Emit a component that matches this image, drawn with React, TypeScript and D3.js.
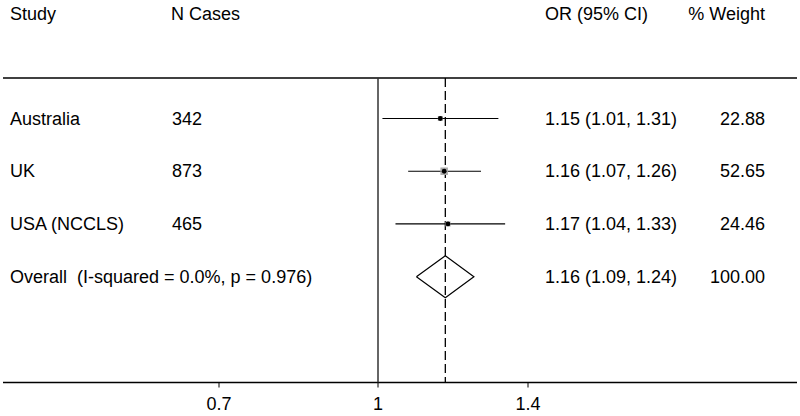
import * as d3 from 'd3'

const studies = ['Australia', 'UK', 'USA (NCCLS)']
const nCases = [342, 873, 465]
const orEst = [1.15, 1.16, 1.17]
const ciLow = [1.01, 1.07, 1.04]
const ciHigh = [1.31, 1.26, 1.33]
const weights = [22.88, 52.65, 24.46]

const overallLabel = 'Overall  (I-squared = 0.0%, p = 0.976)'
const overallEst = 1.163
const overallLow = 1.09
const overallHigh = 1.24
const overallWeight = '100.00'
const overallText = '1.16 (1.09, 1.24)'
const orTexts = ['1.15 (1.01, 1.31)', '1.16 (1.07, 1.26)', '1.17 (1.04, 1.33)']

const xTicks = [0.7, 1, 1.4]
const headers = { study: 'Study', n: 'N Cases', or: 'OR (95% CI)', weight: '% Weight' }

const W = 800
const H = 416
const TOP = 78
const BOTTOM = 382.5
const FONT = '"Liberation Sans", Arial, Helvetica, sans-serif'
const FS = 18

export default function App() {
  const x = d3.scaleLog().domain([0.7, 1.4]).range([219, 528])
  const rowKeys = [...studies, 'overall']
  const y = d3.scalePoint<string>().domain(rowKeys).range([118.5, 276.7])
  const box = d3.scaleSqrt().domain([0, d3.max(weights) as number]).range([0, 7.5])

  const diamond = d3.line<[number, number]>()
  const yo = y('overall') as number
  const dPts: [number, number][] = [
    [x(overallLow), yo],
    [x(overallEst), yo - 21],
    [x(overallHigh), yo],
    [x(overallEst), yo + 21],
    [x(overallLow), yo],
  ]

  return (
    <svg
      width={W}
      height={H}
      style={{ position: 'absolute', left: 0, top: 0, background: '#fff', fontFamily: FONT, whiteSpace: 'pre' }}
    >
      <rect width={W} height={H} fill="#fff" />

      {/* headers */}
      <g fontSize={FS} fill="#000" dominantBaseline="central">
        <text x={10} y={14}>{headers.study}</text>
        <text x={171} y={14}>{headers.n}</text>
        <text x={545} y={14}>{headers.or}</text>
        <text x={765} y={14} textAnchor="end">{headers.weight}</text>
      </g>

      {/* top rule and axis */}
      <line x1={3} x2={797} y1={TOP} y2={TOP} stroke="#000" strokeWidth={1.5} />
      <line x1={3} x2={797} y1={BOTTOM} y2={BOTTOM} stroke="#000" strokeWidth={1.5} />

      {/* null line and pooled line */}
      <line x1={x(1)} x2={x(1)} y1={TOP} y2={BOTTOM} stroke="#333" strokeWidth={1.5} />
      <line
        x1={x(overallEst)}
        x2={x(overallEst)}
        y1={TOP}
        y2={BOTTOM}
        stroke="#000"
        strokeWidth={1.3}
        strokeDasharray="9,4"
      />

      {/* ticks */}
      {xTicks.map(t => (
        <g key={t}>
          <line x1={x(t)} x2={x(t)} y1={BOTTOM} y2={BOTTOM + 5} stroke="#000" strokeWidth={1} />
          <text x={x(t)} y={404} textAnchor="middle" dominantBaseline="central" fontSize={FS} fill="#000">
            {t}
          </text>
        </g>
      ))}

      {/* study rows */}
      {studies.map((s, i) => {
        const yy = y(s) as number
        const b = box(weights[i])
        return (
          <g key={s}>
            <line x1={x(ciLow[i])} x2={x(ciHigh[i])} y1={yy} y2={yy} stroke="#000" strokeWidth={1.2} />
            <rect x={x(orEst[i]) - b / 2} y={yy - b / 2} width={b} height={b} fill="#aaa" />
            <circle cx={x(orEst[i])} cy={yy} r={2.4} fill="#000" />
            <g fontSize={FS} fill="#000" dominantBaseline="central">
              <text x={10} y={yy}>{s}</text>
              <text x={172} y={yy}>{nCases[i]}</text>
              <text x={545} y={yy}>{orTexts[i]}</text>
              <text x={765} y={yy} textAnchor="end">{weights[i].toFixed(2)}</text>
            </g>
          </g>
        )
      })}

      {/* overall */}
      <path d={diamond(dPts) || ''} fill="none" stroke="#000" strokeWidth={1.2} />
      <g fontSize={FS} fill="#000" dominantBaseline="central">
        <text x={10} y={yo} xmlSpace="preserve">{overallLabel}</text>
        <text x={545} y={yo}>{overallText}</text>
        <text x={765} y={yo} textAnchor="end">{overallWeight}</text>
      </g>
    </svg>
  )
}
